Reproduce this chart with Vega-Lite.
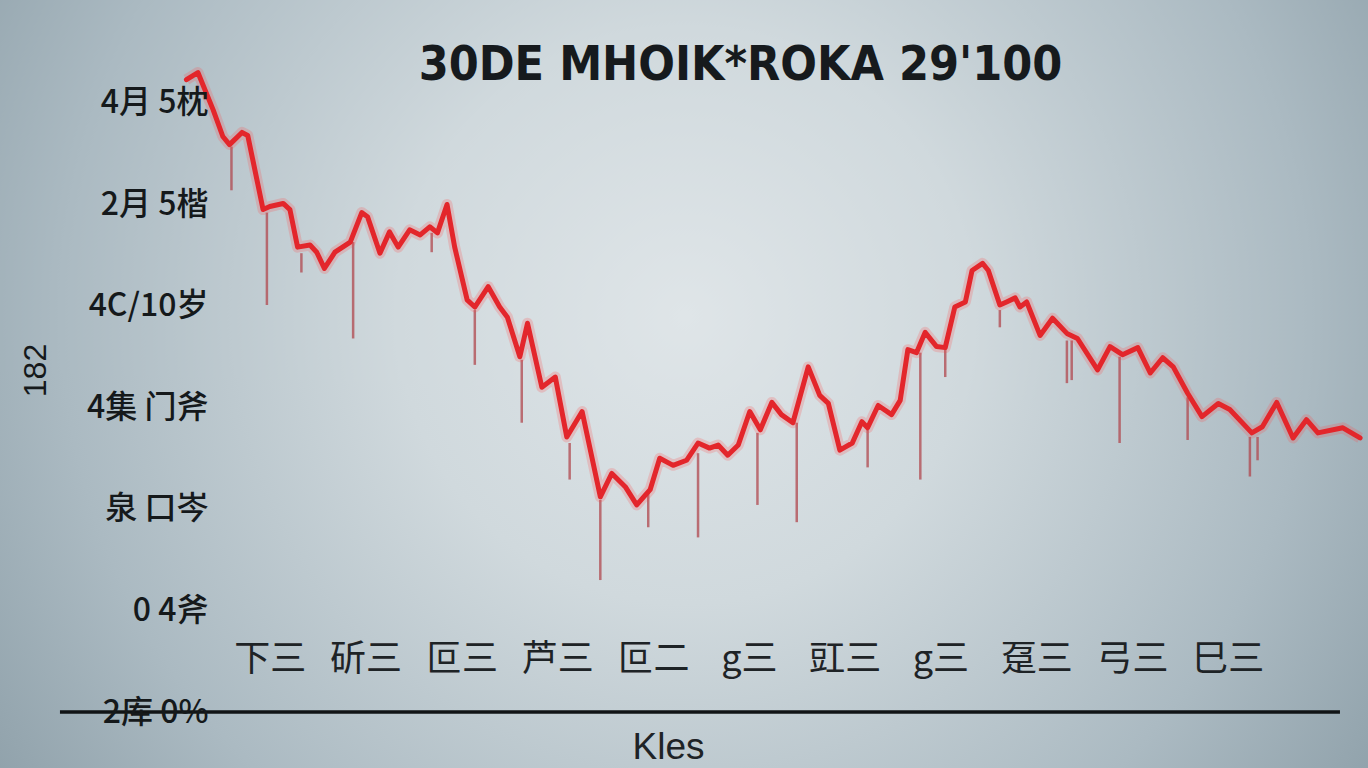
{
  "$schema": "https://vega.github.io/schema/vega-lite/v6.json",
  "width": 1303,
  "height": 642,
  "autosize": {"type": "none"},
  "padding": {"left": 59, "top": 70, "right": 6, "bottom": 56},
  "background": "#a3b2ba",
  "title": {
    "text": "30DE MHOIK*ROKA 29'100",
    "font": "DejaVu Sans Condensed",
    "fontSize": 48,
    "fontWeight": "bold",
    "color": "#161a1d",
    "anchor": "middle",
    "frame": "group",
    "dx": 30,
    "dy": 132,
    "offset": -10,
    "baseline": "bottom",
    "zindex": 2
  },
  "datasets": {
    "line": [
      {"t": 11.3, "v": 6.23}, {"t": 12.5, "v": 6.30}, {"t": 14.1, "v": 5.93}, {"t": 15.1, "v": 5.67},
      {"t": 15.8, "v": 5.59}, {"t": 17.1, "v": 5.71}, {"t": 17.7, "v": 5.68}, {"t": 19.3, "v": 4.95},
      {"t": 20.0, "v": 4.98}, {"t": 21.4, "v": 5.01}, {"t": 22.1, "v": 4.95}, {"t": 22.9, "v": 4.58},
      {"t": 24.2, "v": 4.60}, {"t": 24.9, "v": 4.53}, {"t": 25.7, "v": 4.37}, {"t": 26.8, "v": 4.53},
      {"t": 28.4, "v": 4.63}, {"t": 29.6, "v": 4.92}, {"t": 30.2, "v": 4.88}, {"t": 31.5, "v": 4.52},
      {"t": 32.5, "v": 4.73}, {"t": 33.4, "v": 4.58}, {"t": 34.6, "v": 4.75}, {"t": 35.7, "v": 4.70},
      {"t": 36.7, "v": 4.78}, {"t": 37.5, "v": 4.72}, {"t": 38.5, "v": 5.00}, {"t": 39.3, "v": 4.58},
      {"t": 40.6, "v": 4.06}, {"t": 41.4, "v": 3.99}, {"t": 42.8, "v": 4.19}, {"t": 44.0, "v": 3.99},
      {"t": 44.8, "v": 3.89}, {"t": 46.1, "v": 3.50}, {"t": 46.9, "v": 3.83}, {"t": 48.4, "v": 3.20},
      {"t": 49.8, "v": 3.30}, {"t": 51.0, "v": 2.71}, {"t": 52.6, "v": 2.96}, {"t": 54.5, "v": 2.12},
      {"t": 55.7, "v": 2.35}, {"t": 57.1, "v": 2.22}, {"t": 58.3, "v": 2.04}, {"t": 59.7, "v": 2.19},
      {"t": 60.7, "v": 2.50}, {"t": 62.1, "v": 2.43}, {"t": 63.5, "v": 2.48}, {"t": 64.7, "v": 2.65},
      {"t": 65.9, "v": 2.60}, {"t": 66.8, "v": 2.63}, {"t": 67.8, "v": 2.53}, {"t": 68.9, "v": 2.63},
      {"t": 70.1, "v": 2.96}, {"t": 71.2, "v": 2.78}, {"t": 72.4, "v": 3.05}, {"t": 73.4, "v": 2.93},
      {"t": 74.6, "v": 2.85}, {"t": 76.2, "v": 3.40}, {"t": 77.4, "v": 3.12}, {"t": 78.3, "v": 3.04},
      {"t": 79.5, "v": 2.58}, {"t": 80.8, "v": 2.65}, {"t": 81.8, "v": 2.86}, {"t": 82.4, "v": 2.80},
      {"t": 83.5, "v": 3.02}, {"t": 84.9, "v": 2.93}, {"t": 85.8, "v": 3.07}, {"t": 86.6, "v": 3.57},
      {"t": 87.5, "v": 3.54}, {"t": 88.4, "v": 3.74}, {"t": 89.6, "v": 3.60}, {"t": 90.5, "v": 3.59},
      {"t": 91.5, "v": 3.99}, {"t": 92.6, "v": 4.04}, {"t": 93.3, "v": 4.35}, {"t": 94.4, "v": 4.42},
      {"t": 95.0, "v": 4.35}, {"t": 96.2, "v": 4.01}, {"t": 96.9, "v": 4.04}, {"t": 97.8, "v": 4.08},
      {"t": 98.3, "v": 3.99}, {"t": 99.0, "v": 4.04}, {"t": 100.4, "v": 3.71}, {"t": 101.7, "v": 3.88},
      {"t": 103.2, "v": 3.73}, {"t": 104.3, "v": 3.68}, {"t": 106.4, "v": 3.37}, {"t": 107.7, "v": 3.60},
      {"t": 109.0, "v": 3.52}, {"t": 110.6, "v": 3.59}, {"t": 111.9, "v": 3.34}, {"t": 113.2, "v": 3.49},
      {"t": 114.3, "v": 3.40}, {"t": 115.8, "v": 3.14}, {"t": 117.3, "v": 2.91}, {"t": 119.0, "v": 3.04},
      {"t": 120.2, "v": 2.98}, {"t": 122.5, "v": 2.75}, {"t": 123.6, "v": 2.81}, {"t": 125.1, "v": 3.05},
      {"t": 126.8, "v": 2.70}, {"t": 128.2, "v": 2.88}, {"t": 129.4, "v": 2.75}, {"t": 132.0, "v": 2.80},
      {"t": 133.8, "v": 2.70}
    ],
    "spikes": [
      {"t": 16.0, "top": 5.57, "bottom": 5.14}, {"t": 19.7, "top": 4.92, "bottom": 4.01},
      {"t": 23.3, "top": 4.52, "bottom": 4.33}, {"t": 28.7, "top": 4.63, "bottom": 3.68},
      {"t": 36.9, "top": 4.72, "bottom": 4.53}, {"t": 41.4, "top": 3.96, "bottom": 3.42},
      {"t": 46.3, "top": 3.47, "bottom": 2.85}, {"t": 51.3, "top": 2.65, "bottom": 2.29},
      {"t": 54.5, "top": 2.09, "bottom": 1.30}, {"t": 59.5, "top": 2.16, "bottom": 1.82},
      {"t": 64.7, "top": 2.55, "bottom": 1.72}, {"t": 70.9, "top": 2.75, "bottom": 2.04},
      {"t": 75.0, "top": 2.85, "bottom": 1.87}, {"t": 82.4, "top": 2.78, "bottom": 2.41},
      {"t": 87.9, "top": 3.54, "bottom": 2.29}, {"t": 90.5, "top": 3.57, "bottom": 3.30},
      {"t": 96.2, "top": 3.96, "bottom": 3.79}, {"t": 103.2, "top": 3.66, "bottom": 3.24},
      {"t": 103.7, "top": 3.66, "bottom": 3.27}, {"t": 108.7, "top": 3.50, "bottom": 2.65},
      {"t": 115.8, "top": 3.10, "bottom": 2.68}, {"t": 122.3, "top": 2.71, "bottom": 2.32},
      {"t": 123.1, "top": 2.71, "bottom": 2.48}
    ],
    "frame": [{"x0": -8.2, "x1": 135, "y0": -0.6, "y1": 7.05}],
    "base": [{"t": -1.9, "v": 0}, {"t": 131.7, "v": 0}]
  },
  "encoding": {
    "x": {
      "field": "t",
      "type": "quantitative",
      "scale": {"domain": [-2, 134], "nice": false, "zero": false},
      "axis": {
        "zindex": 1,
        "values": [20, 30, 40, 50, 60, 70, 80, 90, 100, 110, 120],
        "labelExpr": "['下三','斫三','叵三','芦三','叵二','g三','豇三','g三','趸三','弓三','巳三'][round((datum.value-20)/10)]",
        "orient": "bottom",
        "offset": -82,
        "labelPadding": 12,
        "labelBaseline": "top",
        "labelFont": "Noto Sans CJK SC",
        "labelFontSize": 36,
        "labelColor": "#1e2326",
        "labelFlush": false,
        "labelOverlap": false,
        "title": "Kles",
        "titleFont": "Liberation Sans",
        "titleFontSize": 37,
        "titleFontWeight": "normal",
        "titleColor": "#1e2326",
        "titleX": 609,
        "titleY": 128,
        "titleBaseline": "alphabetic"
      }
    },
    "y": {
      "field": "v",
      "type": "quantitative",
      "scale": {"domain": [0, 6.325], "nice": false},
      "axis": {
        "zindex": 1,
        "values": [0, 1, 2, 3, 4, 5, 6],
        "labelExpr": "['2库 0%','0 4斧','泉 口岑','4集 门斧','4C/10岁','2月 5楷','4月 5枕'][datum.value]",
        "offset": -151,
        "labelPadding": 2,
        "labelFont": "Noto Sans CJK SC",
        "labelFontSize": 32,
        "labelFontWeight": 500,
        "labelColor": "#15191b",
        "labelFlush": false,
        "labelOverlap": false,
        "title": "182",
        "titleFont": "Liberation Sans",
        "titleFontSize": 32,
        "titleFontWeight": "normal",
        "titleColor": "#15191b",
        "titleX": -158,
        "titleY": 300
      }
    }
  },
  "layer": [
    {
      "data": {"name": "frame"},
      "mark": {
        "type": "rect",
        "clip": false,
        "fill": {
          "gradient": "radial",
          "x1": 0.5, "y1": 0.45, "r1": 0,
          "x2": 0.5, "y2": 0.45, "r2": 0.7,
          "stops": [
            {"offset": 0, "color": "#dfe5e8"},
            {"offset": 0.3, "color": "#d0d9dd"},
            {"offset": 0.65, "color": "#abbac2"},
            {"offset": 1, "color": "#7f929c"}
          ]
        }
      },
      "encoding": {
        "x": {"field": "x0", "type": "quantitative"},
        "x2": {"field": "x1"},
        "y": {"field": "y0", "type": "quantitative"},
        "y2": {"field": "y1"}
      }
    },
    {
      "data": {"name": "spikes"},
      "mark": {"type": "rule", "color": "#b0474d", "strokeWidth": 2.5, "opacity": 0.75},
      "encoding": {
        "y": {"field": "top", "type": "quantitative"},
        "y2": {"field": "bottom"}
      }
    },
    {
      "data": {"name": "line"},
      "mark": {"type": "line", "color": "#ff4a4a", "strokeWidth": 11, "opacity": 0.22, "strokeJoin": "round"},
      "encoding": {}
    },
    {
      "data": {"name": "line"},
      "mark": {"type": "line", "color": "#e3262b", "strokeWidth": 5, "strokeJoin": "round", "strokeCap": "round"},
      "encoding": {}
    },
    {
      "data": {"name": "base"},
      "mark": {"type": "line", "color": "#111416", "strokeWidth": 3.5},
      "encoding": {}
    }
  ],
  "config": {
    "view": {"stroke": null},
    "axis": {"grid": false, "domain": false, "ticks": false}
  }
}
